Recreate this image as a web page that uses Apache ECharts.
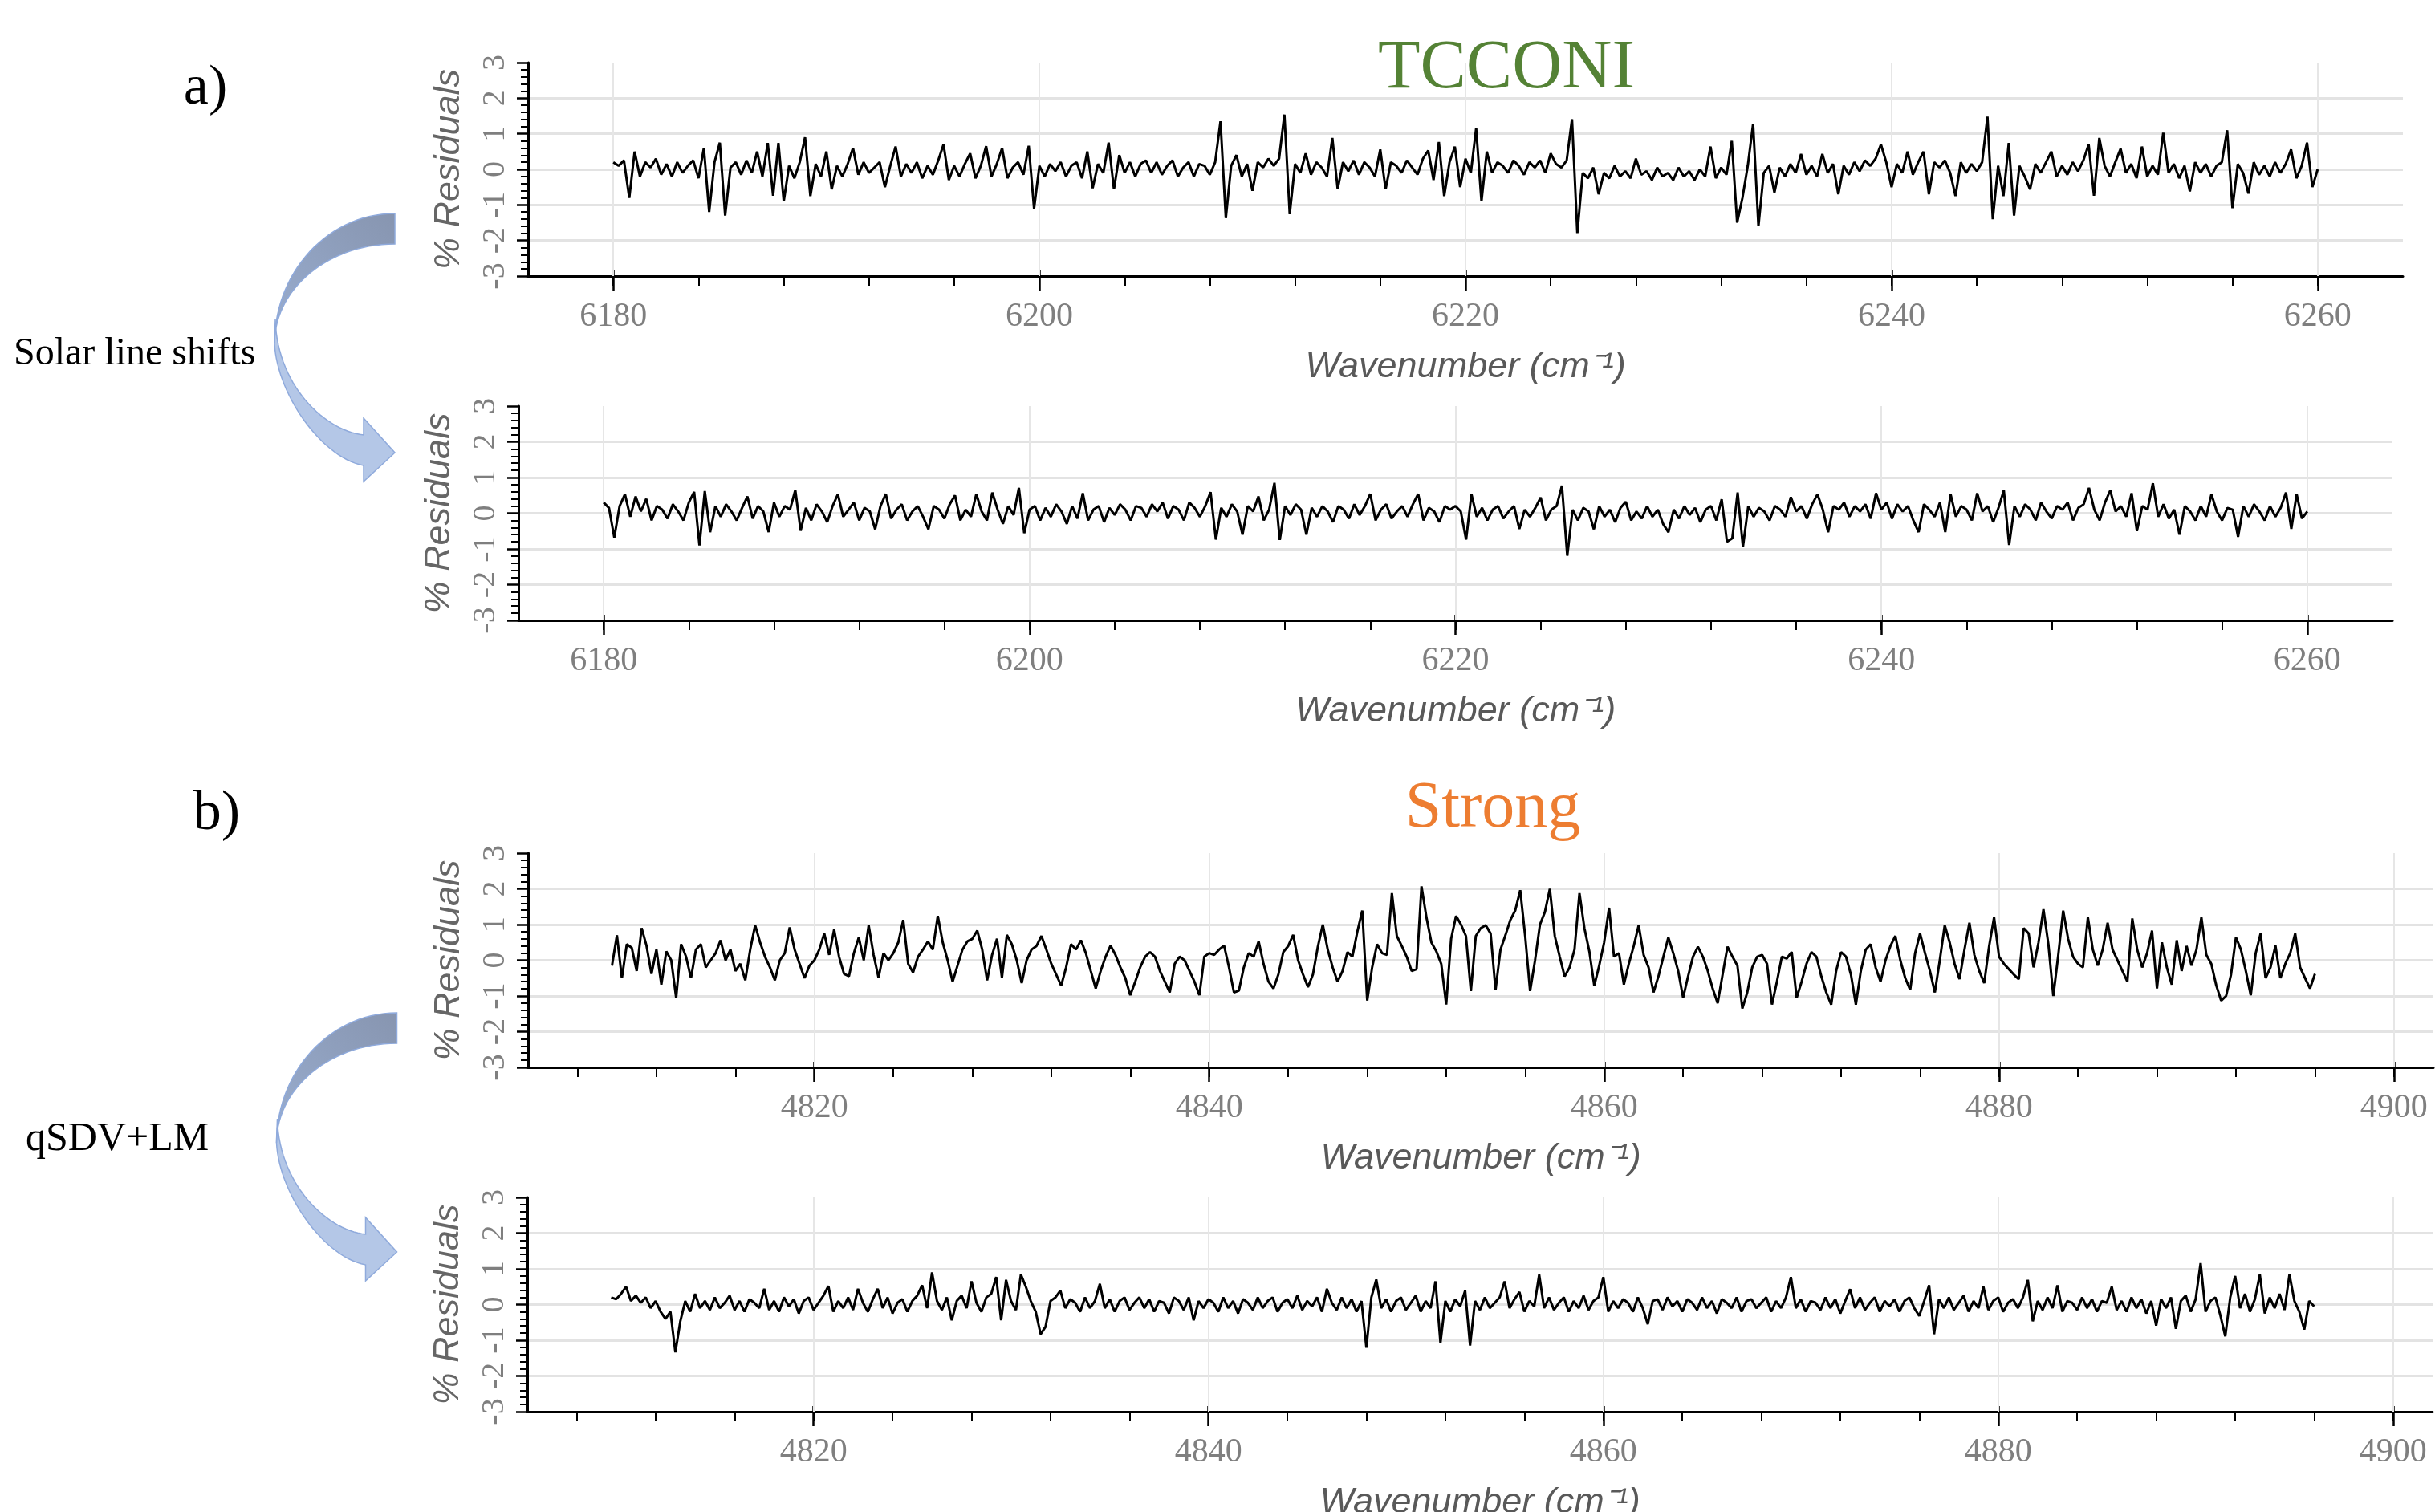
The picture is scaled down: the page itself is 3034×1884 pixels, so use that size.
<!DOCTYPE html>
<html>
<head>
<meta charset="utf-8">
<title>Residuals – TCCON and Strong CO2 windows</title>
<script src="https://cdn.jsdelivr.net/npm/echarts@6/dist/echarts.min.js"></script>
<style>
  html, body { margin: 0; padding: 0; background: #ffffff; }
  #chart { width: 3034px; height: 1884px; }
</style>
</head>
<body>
<div id="chart"></div>
<script>
// Spectral sampling of the residual curves (cm-1)
const STEP = 0.25;
const TCCON_START = 6180;
const STRONG_START = 4809.75;

// Axis ticks
const tcconMajorTicks = [6180, 6200, 6220, 6240, 6260];
const tcconMinorTicks = [6180, 6184, 6188, 6192, 6196, 6200, 6204, 6208, 6212, 6216, 6220,
  6224, 6228, 6232, 6236, 6240, 6244, 6248, 6252, 6256, 6260];
const strongMajorTicks = [4820, 4840, 4860, 4880, 4900];
const strongMinorTicks = [4808, 4812, 4816, 4820, 4824, 4828, 4832, 4836, 4840, 4844, 4848, 4852,
  4856, 4860, 4864, 4868, 4872, 4876, 4880, 4884, 4888, 4892, 4896, 4900];

// % residuals, TCCON window, before solar line shift correction
const tcconBefore = [
  .2,.1,.25,-.8,.5,-.2,.2,.05,.3,-.15,.15,-.2,.2,-.1,.1,.25,-.25,.6,-1.2,.2,
  .75,-1.3,.05,.2,-.15,.25,-.1,.5,-.2,.74,-.74,.74,-.9,.1,-.25,.2,.9,-.75,.15,-.2,
  .5,-.56,.1,-.2,.15,.6,-.15,.2,-.1,.05,.2,-.5,.1,.64,-.2,.15,-.1,.2,-.25,.1,
  -.15,.25,.7,-.3,.1,-.2,.15,.45,-.25,.1,.65,-.2,.15,.6,-.25,.05,.2,-.15,.66,-1.1,
  .1,-.2,.15,-.05,.2,-.2,.1,.2,-.25,.5,-.53,.15,-.1,.75,-.56,.4,-.1,.2,-.2,.15,
  .25,-.1,.2,-.15,.1,.25,-.2,.05,.2,-.2,.15,.1,-.15,.2,1.35,-1.37,.1,.4,-.2,.15,
  -.6,.2,.05,.3,.1,.3,1.54,-1.26,.15,-.1,.45,-.15,.2,.05,-.2,.88,-.55,.2,-.05,.25,
  -.15,.2,.05,-.2,.56,-.56,.2,.1,-.1,.25,.05,-.15,.3,.53,-.3,.77,-.75,.2,.64,-.5,
  .3,-.1,1.15,-.9,.5,-.1,.2,.1,-.1,.25,.1,-.15,.2,.05,.25,-.1,.45,.15,.05,.25,
  1.41,-1.79,-.1,-.25,.05,-.7,-.1,-.25,.1,-.2,-.05,-.25,.3,-.15,-.05,-.3,.05,-.2,-.1,-.3,
  .05,-.2,-.05,-.3,0,-.2,.64,-.25,.05,-.15,.8,-1.5,-.8,.1,1.28,-1.6,-.1,.1,-.65,.05,
  -.2,.15,-.1,.43,-.15,.1,-.2,.43,-.1,.15,-.7,.1,-.15,.2,-.05,.25,.1,.3,.7,.2,
  -.5,.15,-.1,.5,-.15,.2,.5,-.7,.2,.05,.25,-.1,-.75,.2,-.1,.15,-.05,.2,1.48,-1.4,
  .1,-.75,.74,-1.3,.1,-.2,-.56,.15,-.1,.2,.5,-.2,.1,-.15,.2,-.05,.25,.7,-.74,.88,
  .1,-.2,.2,.58,-.1,.15,-.25,.64,-.2,.1,-.15,1.03,-.1,.15,-.25,.1,-.62,.2,-.1,.15,
  -.2,.1,.2,1.1,-1.09,.15,-.1,-.68,.2,-.15,.1,-.2,.2,-.1,.15,.56,-.25,.1,.75,-.5,0
];

// % residuals, TCCON window, after solar line shift correction
const tcconAfter = [
  .3,.15,-.68,.2,.53,-.1,.47,.05,.4,-.2,.2,.1,-.15,.25,.05,-.2,.3,.6,-.9,.62,
  -.53,.2,-.1,.25,.05,-.2,.15,.47,-.15,.2,.05,-.53,.3,-.1,.2,.1,.65,-.49,.15,-.2,
  .25,.05,-.25,.2,.53,-.1,.1,.3,-.2,.15,.05,-.45,.2,.54,-.15,.1,.25,-.2,.05,.2,
  -.1,-.45,.2,.1,-.15,.25,.5,-.2,.1,-.1,.54,.05,-.2,.58,.1,-.3,.2,-.05,.71,-.56,
  .1,.2,-.2,.15,-.1,.25,.05,-.3,.2,-.15,.56,-.2,.1,.2,-.25,.15,-.05,.25,.1,-.2,
  .2,.15,-.1,.25,.05,.3,-.15,.2,.1,-.2,.3,.15,-.1,.2,.59,-.74,.15,-.1,.25,.05,
  -.6,.2,.05,.47,-.2,.1,.85,-.75,.2,-.05,.25,.1,-.6,.15,-.1,.2,.05,-.25,.2,.1,
  -.15,.25,-.05,.2,.54,-.2,.1,.25,-.15,.05,.2,-.1,.25,.54,-.2,.15,.05,-.25,.2,.1,
  .2,.05,-.74,.53,-.1,.15,-.2,.1,.2,-.15,.05,.2,-.44,.1,-.1,.15,.44,-.2,.1,.2,
  .77,-1.19,.1,-.2,.15,.05,-.45,.2,-.1,.1,-.25,.15,.32,-.2,.05,-.15,.2,-.1,.1,-.3,
  -.53,.1,-.15,.2,-.05,.15,-.25,.1,.2,-.2,.39,-.8,-.7,.58,-.94,.2,-.1,.15,.05,-.2,
  .2,.1,-.1,.45,.05,.2,-.15,.25,.53,.1,-.53,.2,.1,.3,-.1,.2,.05,.25,-.15,.56,
  .1,.3,-.15,.25,.05,.2,-.2,-.53,.25,.1,-.1,.3,-.53,.53,-.1,.2,.1,-.2,.56,.05,
  .2,-.25,.15,.64,-.89,.2,-.1,.25,.1,-.2,.3,.05,-.15,.2,.1,.3,-.2,.15,.25,.71,
  .1,-.2,.3,.64,.05,.2,-.1,.56,-.5,.2,.1,.84,-.1,.25,-.15,.1,-.6,.2,.05,-.2,
  .2,-.1,.53,.05,-.2,.15,.1,-.66,.2,-.1,.25,.05,-.2,.2,-.1,.15,.58,-.44,.53,-.15,.05
];

// % residuals, Strong CO2 window, before qSDV+LM line shapes
const strongBefore = [
  -.15,.7,-.5,.45,.35,-.3,.9,.4,-.38,.3,-.68,.25,0,-1.05,.45,.1,-.5,.3,.45,-.2,
  0,.2,.56,0,.3,-.3,-.1,-.56,.3,.98,.5,.1,-.2,-.56,0,.2,.92,.3,-.1,-.5,
  -.15,0,.3,.75,.15,.86,.1,-.38,-.45,.2,.64,0,.98,.15,-.49,.2,0,.2,.5,1.13,
  -.1,-.34,.1,.3,.53,.3,1.24,.5,0,-.6,-.15,.3,.53,.6,.83,.3,-.56,.15,.6,-.49,
  .71,.45,0,-.64,0,.3,.4,.68,.3,-.1,-.4,-.71,-.2,.45,.3,.56,.2,-.3,-.79,-.3,
  .1,.41,.15,-.2,-.5,-.98,-.6,-.2,.1,.23,.1,-.3,-.6,-.9,-.1,.1,0,-.3,-.6,-.98,
  .1,.2,.15,.3,.41,-.2,-.9,-.85,-.2,.2,.1,.53,-.1,-.6,-.79,-.4,.23,.4,.71,0,
  -.4,-.75,-.4,.38,1,.3,-.2,-.6,-.3,.23,.1,.8,1.39,-1.13,-.2,.45,.2,.15,1.88,.68,
  .4,.1,-.3,-.25,2.07,1.2,.5,.25,-.1,-1.24,.6,1.24,1,.68,-.86,.68,.9,.98,.75,-.83,
  .3,.7,1.13,1.4,1.96,.68,-.86,0,1,1.35,2,.68,.1,-.45,-.2,.3,1.88,.9,.25,-.71,
  -.15,.5,1.47,.1,.2,-.68,-.1,.4,.98,.15,-.2,-.9,-.45,.1,.64,.2,-.3,-1.05,-.45,.1,
  .38,.1,-.3,-.8,-1.2,-.4,.38,.1,-.15,-1.35,-.9,-.2,.1,.15,-.1,-1.24,-.6,.1,.05,.23,
  -1.05,-.6,-.1,.23,.1,-.45,-.9,-1.24,-.3,.23,.1,-.4,-1.24,-.3,.3,.45,-.2,-.6,0,.4,
  .68,0,-.5,-.83,.2,.75,.2,-.3,-.9,0,.98,.5,-.1,-.53,.3,1.05,.15,-.3,-.64,.4,
  1.2,.1,-.1,-.25,-.4,-.53,.9,.75,-.2,.5,1.43,.45,-1,.15,1.39,.6,.1,-.1,-.2,1.2,
  .3,-.15,.3,1.05,.3,0,-.3,-.6,1.17,.3,-.2,.2,.83,-.79,.5,-.2,-.68,.56,-.3,.4,
  -.15,.3,1.2,.15,-.1,-.7,-1.13,-1,-.4,.64,.3,-.3,-.98,.2,.75,-.5,-.2,.41,-.5,-.1,
  .2,.75,-.2,-.5,-.79,-.38
];

// % residuals, Strong CO2 window, with qSDV+LM line shapes
const strongAfter = [
  .2,.15,.3,.5,.1,.25,.05,.2,-.1,.1,-.2,-.4,-.2,-1.34,-.47,.1,-.2,.3,-.1,.1,
  -.15,.2,-.1,.05,.25,-.15,.1,-.2,.15,.05,-.1,.44,-.15,.1,-.2,.2,-.05,.15,-.25,.1,
  .2,-.15,.05,.25,.52,-.2,.1,-.1,.2,-.15,.44,.05,-.2,.15,.44,-.1,.2,-.25,.05,.15,
  -.2,.1,.25,.54,-.1,.9,.1,-.15,.2,-.44,.1,.25,-.1,.65,.05,-.2,.2,.3,.77,-.44,
  .69,.1,-.15,.84,.5,.1,-.2,-.83,-.62,.1,.2,.39,-.1,.15,.05,-.2,.2,-.1,.1,.58,
  -.1,.15,-.2,.1,.2,-.15,.05,.2,-.1,.15,-.2,.1,.05,-.25,.2,.1,-.15,.2,-.44,.1,
  -.1,.15,.05,-.2,.2,-.1,.1,-.25,.15,.05,-.15,.2,-.1,.1,.2,-.2,.05,.15,-.1,.25,
  -.15,.1,-.05,.2,-.2,.44,.05,-.15,.2,-.1,.15,-.2,.1,-1.21,.2,.7,-.1,.15,-.2,.1,
  .2,-.15,.05,.25,-.2,.1,-.1,.65,-1.07,.1,-.2,.15,-.05,.39,-1.15,.1,-.15,.2,-.1,.05,
  .2,.65,-.1,.15,.35,-.2,.1,-.05,.84,-.1,.2,-.15,.05,.2,-.2,.1,-.1,.25,-.15,.1,
  .2,.77,-.2,.1,-.1,.15,.05,-.2,.2,-.1,-.55,.1,.15,-.15,.2,-.05,.1,-.2,.15,.05,
  -.15,.2,-.1,.1,-.25,.15,.05,-.1,.2,-.2,.1,.15,-.1,.05,.2,-.2,.1,-.1,.2,.77,
  -.1,.15,-.2,.1,.05,-.15,.2,-.1,.15,-.25,.1,.43,-.1,.2,-.15,.05,.2,-.2,.1,-.05,
  .15,-.2,.1,.2,-.1,-.32,.1,.54,-.83,.15,-.1,.2,-.15,.05,.25,-.2,.1,-.1,.5,-.15,
  .1,.2,-.2,.05,.15,-.1,.2,.69,-.47,.1,-.15,.2,-.1,.54,-.2,.1,.05,-.15,.2,-.1,
  .15,-.2,.1,.05,.5,-.15,.1,-.2,.2,-.1,.15,-.25,.1,-.59,.15,-.1,.2,-.68,.1,.25,
  -.2,.15,1.16,-.2,.1,.2,-.3,-.89,.2,.8,-.1,.3,-.2,.15,.84,-.25,.2,-.1,.3,-.15,
  .84,.1,-.2,-.7,.1,-.05
];

// ---------------------------------------------------------------------------
const SERIF = '"Liberation Serif", "DejaVu Serif", serif';
const SANS = '"Liberation Sans", Arial, sans-serif';
const TICK_GREY = '#7f7f7f';
const NAME_GREY = '#595959';

const panels = [
  { left: 658, top: 78,   width: 2336, height: 266, min: 6176,   max: 6264, major: tcconMajorTicks,  minor: tcconMinorTicks,  start: TCCON_START,  values: tcconBefore },
  { left: 646, top: 506,  width: 2335, height: 267, min: 6176,   max: 6264, major: tcconMajorTicks,  minor: tcconMinorTicks,  start: TCCON_START,  values: tcconAfter },
  { left: 658, top: 1063, width: 2374, height: 267, min: 4805.5, max: 4902, major: strongMajorTicks, minor: strongMinorTicks, start: STRONG_START, values: strongBefore },
  { left: 657, top: 1492, width: 2374, height: 267, min: 4805.5, max: 4902, major: strongMajorTicks, minor: strongMinorTicks, start: STRONG_START, values: strongAfter }
];

const grid = [], xAxis = [], yAxis = [], series = [];

panels.forEach((p, k) => {
  grid.push({ left: p.left, top: p.top, width: p.width, height: p.height,
              containLabel: false, outerBoundsMode: 'none' });

  const baseX = { type: 'value', gridIndex: k, min: p.min, max: p.max, position: 'bottom',
                  splitLine: { show: false } };
  // main axis: line, 4 cm-1 ticks, labels and name
  xAxis.push(Object.assign({}, baseX, {
    axisLine: { show: true, onZero: false, lineStyle: { color: '#000', width: 3 } },
    axisTick: { show: true, customValues: p.minor, length: 12, lineStyle: { color: '#000', width: 2 } },
    axisLabel: { show: true, customValues: p.major, margin: 30, formatter: v => String(v),
                 fontFamily: SERIF, fontSize: 42, color: TICK_GREY },
    name: 'Wavenumber (cm⁻¹)', nameLocation: 'middle', nameGap: 91,
    nameTextStyle: { fontFamily: SANS, fontStyle: 'italic', fontSize: 45, color: NAME_GREY }
  }));
  // long ticks at the labelled positions
  xAxis.push(Object.assign({}, baseX, {
    axisLine: { show: false, onZero: false },
    axisTick: { show: true, customValues: p.major, length: 18, lineStyle: { color: '#000', width: 2.5 } },
    axisLabel: { show: false }
  }));
  // short inward part of the labelled ticks
  xAxis.push(Object.assign({}, baseX, {
    axisLine: { show: false, onZero: false },
    axisTick: { show: true, inside: true, customValues: p.major, length: 7, lineStyle: { color: '#000', width: 2.5 } },
    axisLabel: { show: false }
  }));

  yAxis.push({
    type: 'value', gridIndex: k, min: -3, max: 3, interval: 1, position: 'left',
    axisLine: { show: true, onZero: false, lineStyle: { color: '#000', width: 3 } },
    axisTick: { show: true, length: 14, lineStyle: { color: '#000', width: 2.5 } },
    minorTick: { show: true, splitNumber: 5, length: 9, lineStyle: { color: '#000', width: 2 } },
    axisLabel: { rotate: 90, margin: 21, fontFamily: SERIF, fontSize: 40, color: TICK_GREY },
    splitLine: { show: true, showMinLine: false, showMaxLine: false,
                 lineStyle: { color: '#e3e3e3', width: 3 } },
    name: '% Residuals', nameLocation: 'middle', nameRotate: 90, nameGap: 76,
    nameTextStyle: { fontFamily: SANS, fontStyle: 'italic', fontSize: 45, color: '#666666' }
  });

  // vertical grid lines at the labelled wavenumbers
  series.push({
    type: 'line', xAxisIndex: 3 * k, yAxisIndex: k, data: [], silent: true, z: 1,
    animation: false,
    markLine: {
      silent: true, z: 1, animation: false, symbol: ['none', 'none'],
      label: { show: false }, emphasis: { disabled: true },
      lineStyle: { color: '#e6e6e6', width: 2, type: 'solid' },
      data: p.major.map(v => ({ xAxis: v }))
    }
  });
  // residual spectrum
  series.push({
    type: 'line', xAxisIndex: 3 * k, yAxisIndex: k, z: 10, silent: true,
    animation: false, showSymbol: false, symbol: 'none',
    lineStyle: { color: '#000000', width: 3 },
    data: p.values.map((v, i) => [p.start + i * STEP, v])
  });
});

// ---- curved arrows between the panel pairs ----
function bez(p0, p1, p2, p3, n) {
  const out = [];
  for (let s = 0; s <= n; s++) {
    const t = s / n, u = 1 - t;
    const a = u * u * u, b = 3 * u * u * t, c = 3 * u * t * t, d = t * t * t;
    out.push([a * p0[0] + b * p1[0] + c * p2[0] + d * p3[0],
              a * p0[1] + b * p1[1] + c * p2[1] + d * p3[1]]);
  }
  return out;
}
function curvedArrow(dx, top, sy) {
  const P = (x, y) => [x + dx, top + (y - 266) * sy];
  const back = bez(P(492, 266), P(409, 266), P(342, 339), P(342, 428), 30)
    .concat(bez(P(342, 428), P(342, 360), P(409, 304), P(492, 304), 30));
  const front = bez(P(342, 428), P(345, 490), P(400, 570), P(453, 580), 30)
    .concat([P(453, 600), P(492, 564), P(453, 521)])
    .concat(bez(P(453, 542), P(405, 537), P(345, 480), P(343, 398), 30));
  return [
    { type: 'polygon', shape: { points: front },
      style: { fill: '#b4c7e7', stroke: '#8faadc', lineWidth: 1.5 } },
    { type: 'polygon', shape: { points: back },
      style: { fill: new echarts.graphic.LinearGradient(1, 0, 0, 1, [
                 { offset: 0, color: '#8795b0' }, { offset: 1, color: '#9aaed0' }]),
               stroke: '#8faadc', lineWidth: 1.5 } }
  ];
}

function label(text, x, y, size, color, align) {
  return { type: 'text', x: x, y: y,
           style: { text: text, font: size + 'px ' + SERIF, fill: color,
                    align: align, textAlign: align, verticalAlign: 'middle', textVerticalAlign: 'middle' } };
}

const graphic = [].concat(
  curvedArrow(0, 266, 1),
  curvedArrow(2.5, 1262, 1),
  [
    label('TCCONI', 1877, 86, 86, '#548235', 'center'),
    label('Strong', 1860, 1008, 82, '#ed7d31', 'center'),
    label('a)', 256, 111, 70, '#000000', 'center'),
    label('b)', 270, 1015, 70, '#000000', 'center'),
    label('Solar line shifts', 17, 441, 48, '#000000', 'left'),
    label('qSDV+LM', 32, 1420, 50, '#000000', 'left')
  ]
);

const chart = echarts.init(document.getElementById('chart'), null, { renderer: 'canvas' });
chart.setOption({
  animation: false,
  backgroundColor: '#ffffff',
  grid, xAxis, yAxis, series, graphic
});
</script>
</body>
</html>
